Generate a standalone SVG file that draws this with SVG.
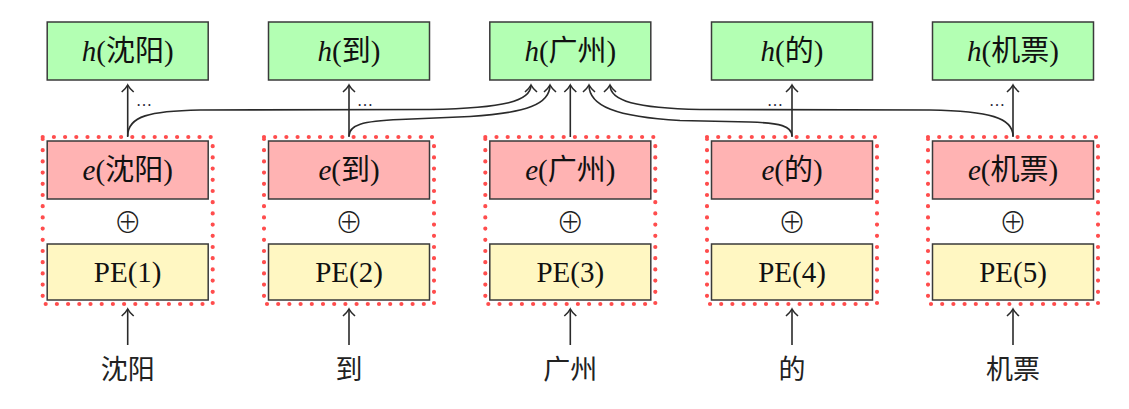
<svg xmlns="http://www.w3.org/2000/svg" width="1129" height="409" viewBox="0 0 1129 409">
<style>
  .bx { stroke: #3a3a3a; stroke-width: 1.5; }
  .h { fill: #b3ffb3; }
  .e { fill: #ffb3b3; }
  .pe { fill: #fff7c2; }
  .dot { fill: none; stroke: #ff4d4d; stroke-width: 4.2; stroke-dasharray: 0 11.2; stroke-linecap: round; }
  .t { font-family: "Liberation Serif", "Noto Sans CJK SC", serif; font-size: 29px; fill: #111; text-anchor: middle; }
  .w { font-family: "Noto Sans CJK SC", sans-serif; font-size: 27px; fill: #222; text-anchor: middle; }
  .i { font-style: italic; }
  .op { font-family: "Noto Sans CJK SC", sans-serif; font-weight: 300; font-size: 28px; fill: #222; text-anchor: middle; }
  .dd { font-family: "Liberation Serif", serif; font-size: 16px; fill: #223; }
  .ln { fill: none; stroke: #2a2a2a; stroke-width: 1.6; marker-end: url(#arr); }
</style>
<defs>
  <marker id="arr" viewBox="-9 -7 11 14" refX="0" refY="0" markerWidth="11" markerHeight="14" orient="auto" markerUnits="userSpaceOnUse">
    <path d="M-7,-6 C-4,-2.6 -1.4,-0.7 0,0 C-1.4,0.7 -4,2.6 -7,6" fill="none" stroke="#2a2a2a" stroke-width="1.6"/>
  </marker>
</defs>

<g id="node1">
  <rect class="dot" x="42.7" y="137" width="170" height="167"/>
  <rect class="bx h" x="47.2" y="22" width="161" height="58"/>
  <text class="t" x="127.7" y="61"><tspan class="i">h</tspan>(沈阳)</text>
  <rect class="bx e" x="47.2" y="141" width="161" height="58"/>
  <text class="t" x="127.7" y="180"><tspan class="i">e</tspan>(沈阳)</text>
  <text class="op" x="127.7" y="233">⊕</text>
  <rect class="bx pe" x="47.2" y="244" width="161" height="56"/>
  <text class="t" x="127.7" y="282">PE(1)</text>
  <text class="w" x="127.7" y="379">沈阳</text>
</g>
<g id="node2">
  <rect class="dot" x="264" y="137" width="170" height="167"/>
  <rect class="bx h" x="268.5" y="22" width="161" height="58"/>
  <text class="t" x="349" y="61"><tspan class="i">h</tspan>(到)</text>
  <rect class="bx e" x="268.5" y="141" width="161" height="58"/>
  <text class="t" x="349" y="180"><tspan class="i">e</tspan>(到)</text>
  <text class="op" x="349" y="233">⊕</text>
  <rect class="bx pe" x="268.5" y="244" width="161" height="56"/>
  <text class="t" x="349" y="282">PE(2)</text>
  <text class="w" x="349" y="379">到</text>
</g>
<g id="node3">
  <rect class="dot" x="485.3" y="137" width="170" height="167"/>
  <rect class="bx h" x="489.8" y="22" width="161" height="58"/>
  <text class="t" x="570.3" y="61"><tspan class="i">h</tspan>(广州)</text>
  <rect class="bx e" x="489.8" y="141" width="161" height="58"/>
  <text class="t" x="570.3" y="180"><tspan class="i">e</tspan>(广州)</text>
  <text class="op" x="570.3" y="233">⊕</text>
  <rect class="bx pe" x="489.8" y="244" width="161" height="56"/>
  <text class="t" x="570.3" y="282">PE(3)</text>
  <text class="w" x="570.3" y="379">广州</text>
</g>
<g id="node4">
  <rect class="dot" x="707" y="137" width="170" height="167"/>
  <rect class="bx h" x="711.5" y="22" width="161" height="58"/>
  <text class="t" x="792" y="61"><tspan class="i">h</tspan>(的)</text>
  <rect class="bx e" x="711.5" y="141" width="161" height="58"/>
  <text class="t" x="792" y="180"><tspan class="i">e</tspan>(的)</text>
  <text class="op" x="792" y="233">⊕</text>
  <rect class="bx pe" x="711.5" y="244" width="161" height="56"/>
  <text class="t" x="792" y="282">PE(4)</text>
  <text class="w" x="792" y="379">的</text>
</g>
<g id="node5">
  <rect class="dot" x="928" y="137" width="170" height="167"/>
  <rect class="bx h" x="932.5" y="22" width="161" height="58"/>
  <text class="t" x="1013" y="61"><tspan class="i">h</tspan>(机票)</text>
  <rect class="bx e" x="932.5" y="141" width="161" height="58"/>
  <text class="t" x="1013" y="180"><tspan class="i">e</tspan>(机票)</text>
  <text class="op" x="1013" y="233">⊕</text>
  <rect class="bx pe" x="932.5" y="244" width="161" height="56"/>
  <text class="t" x="1013" y="282">PE(5)</text>
  <text class="w" x="1013" y="379">机票</text>
</g>

<g id="connectors">
  <path class="ln" d="M127.7,345 L127.7,309"/>
  <path class="ln" d="M349,345 L349,309"/>
  <path class="ln" d="M570.3,345 L570.3,309"/>
  <path class="ln" d="M792,345 L792,309"/>
  <path class="ln" d="M1013,345 L1013,309"/>

  <path class="ln" d="M127.7,137 L127.7,85"/>
  <path class="ln" d="M349,137 L349,85"/>
  <path class="ln" d="M792,137 L792,85"/>
  <path class="ln" d="M1013,137 L1013,85"/>
  <path class="ln" d="M570.3,137 L570.3,85"/>

  <path class="ln" d="M127.7,136 C127.7,116 150,111 200,110 L430,109.5 C505,108 531,101 531,85"/>
  <path class="ln" d="M349,136 C349,125 362,121 400,119.5 L470,116.5 C527,113 550,104 550,85"/>
  <path class="ln" d="M792,136 C792,126 780,123 750,122 L680,120.5 C616,117 589,106 589,85"/>
  <path class="ln" d="M1013,136 C1013,118 990,111 930,110 L700,109.5 C636,108 610,101 610,85"/>

  <text class="dd" x="136" y="106">…</text>
  <text class="dd" x="357" y="106">…</text>
  <text class="dd" x="767" y="106">…</text>
  <text class="dd" x="989" y="106">…</text>
</g>
</svg>
